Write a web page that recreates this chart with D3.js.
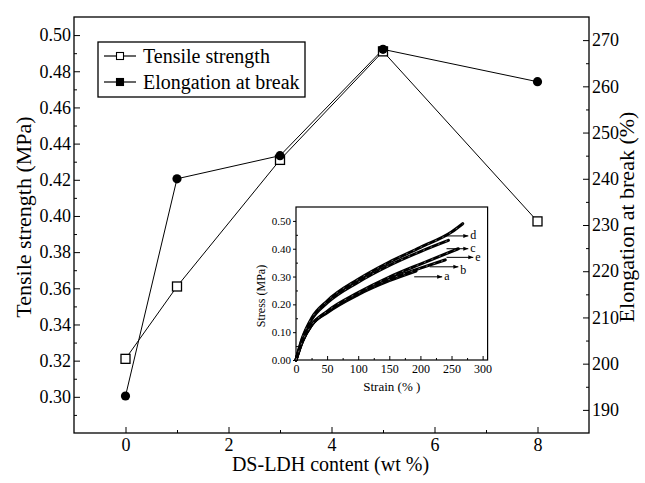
<!DOCTYPE html>
<html>
<head>
<meta charset="utf-8">
<script src="https://cdn.jsdelivr.net/npm/d3@7"></script>
<style>
  body { margin: 0; background: #fff; }
</style>
</head>
<body>
<svg id="chart" width="645" height="483"></svg>
<script>
// DS-LDH loading (wt %) and the two measured properties
const contents = [0, 1, 3, 5, 8];
const tensileStrength = [0.321, 0.361, 0.431, 0.491, 0.397];   // MPa
const elongationAtBreak = [193, 240, 245, 268, 261];           // %

// main axis ticks
const xTicks = [0, 2, 4, 6, 8];
const xMinorTicks = [1, 3, 5, 7];
const leftTicks = [0.30, 0.32, 0.34, 0.36, 0.38, 0.40, 0.42, 0.44, 0.46, 0.48, 0.50];
const leftMinorTicks = [0.29, 0.31, 0.33, 0.35, 0.37, 0.39, 0.41, 0.43, 0.45, 0.47, 0.49];
const rightTicks = [190, 200, 210, 220, 230, 240, 250, 260, 270];
const rightMinorTicks = [195, 205, 215, 225, 235, 245, 255, 265];

// stress–strain curves of the films (inset)
const curveNames = ["a", "b", "c", "d", "e"];
const strainA = [0, 10, 25, 50, 100, 150, 193];
const stressA = [0, 0.065, 0.125, 0.17, 0.235, 0.285, 0.32];
const strainB = [0, 10, 25, 50, 100, 150, 200, 240];
const stressB = [0, 0.065, 0.125, 0.172, 0.238, 0.29, 0.33, 0.36];
const strainC = [0, 10, 25, 50, 100, 150, 200, 245];
const stressC = [0, 0.075, 0.145, 0.205, 0.28, 0.34, 0.39, 0.43];
const strainD = [0, 10, 25, 50, 100, 150, 200, 250, 268];
const stressD = [0, 0.078, 0.15, 0.212, 0.29, 0.352, 0.405, 0.46, 0.49];
const strainE = [0, 10, 25, 50, 100, 150, 200, 261];
const stressE = [0, 0.065, 0.125, 0.175, 0.242, 0.298, 0.345, 0.40];

const insetStressTicks = [0, 0.10, 0.20, 0.30, 0.40, 0.50];
const insetStressMinor = [0.05, 0.15, 0.25, 0.35, 0.45];
const insetStrainTicks = [0, 50, 100, 150, 200, 250, 300];
const insetStrainMinor = [25, 75, 125, 175, 225, 275];

// curve-label pointers in inset data units: strain from, strain to, stress level
const pointerFrom = [190, 215, 242, 237, 242];
const pointerTo = [235, 261, 277, 277, 285];
const pointerStress = [0.299, 0.335, 0.400, 0.446, 0.369];

const SERIF = '"Liberation Serif"';

const svg = d3.select("#chart");
svg.append("rect").attr("width", 645).attr("height", 483).attr("fill", "#fff");

const box = { left: 74, right: 589, top: 17, bottom: 433 };
const x = d3.scaleLinear().domain([-1, 9]).range([box.left, box.right]);
const yL = d3.scaleLinear().domain([0.28, 0.51]).range([box.bottom, box.top]);
const yR = d3.scaleLinear().domain([185, 275]).range([box.bottom, box.top]);

function styleAxis(size) {
  return g => {
    g.attr("font-size", size);
    g.select(".domain").remove();
    g.selectAll(".tick line").attr("stroke", "#000").attr("stroke-width", 1);
    g.selectAll(".tick text").attr("fill", "#000")
      .style("font-family", SERIF).style("font-size", size + "px");
  };
}

function addText(parent, size) {
  return parent.append("text").style("font-family", SERIF)
    .style("font-size", size + "px").attr("fill", "#000");
}

// bottom axis
svg.append("g").attr("transform", `translate(0,${box.bottom})`)
  .call(d3.axisBottom(x).tickValues(xTicks).tickSize(-6).tickPadding(5).tickFormat(d3.format("d")))
  .call(styleAxis(18));
svg.append("g").attr("transform", `translate(0,${box.bottom})`)
  .call(d3.axisBottom(x).tickValues(xMinorTicks).tickSize(-3).tickFormat(""))
  .call(styleAxis(18));

// left axis
svg.append("g").attr("transform", `translate(${box.left},0)`)
  .call(d3.axisLeft(yL).tickValues(leftTicks).tickSize(-6).tickPadding(3).tickFormat(d3.format(".2f")))
  .call(styleAxis(18));
svg.append("g").attr("transform", `translate(${box.left},0)`)
  .call(d3.axisLeft(yL).tickValues(leftMinorTicks).tickSize(-3).tickFormat(""))
  .call(styleAxis(18));

// right axis
svg.append("g").attr("transform", `translate(${box.right},0)`)
  .call(d3.axisRight(yR).tickValues(rightTicks).tickSize(-6).tickPadding(3).tickFormat(d3.format("d")))
  .call(styleAxis(18));
svg.append("g").attr("transform", `translate(${box.right},0)`)
  .call(d3.axisRight(yR).tickValues(rightMinorTicks).tickSize(-3).tickFormat(""))
  .call(styleAxis(18));

// frame
svg.append("rect")
  .attr("x", box.left).attr("y", box.top)
  .attr("width", box.right - box.left).attr("height", box.bottom - box.top)
  .attr("fill", "none").attr("stroke", "#000").attr("stroke-width", 1.3);

// axis titles
addText(svg, 20).attr("x", (box.left + box.right) / 2 - 1).attr("y", 471)
  .attr("text-anchor", "middle").text("DS-LDH content (wt %)");
addText(svg, 22).attr("transform", "translate(31,217) rotate(-90)")
  .attr("text-anchor", "middle").text("Tensile strength (MPa)");
addText(svg, 22).attr("transform", "translate(634,217) rotate(-90)")
  .attr("text-anchor", "middle").text("Elongation at break (%)");

// series lines
const idx = d3.range(contents.length);
svg.append("path")
  .attr("d", d3.line().x(i => x(contents[i])).y(i => yR(elongationAtBreak[i]))(idx))
  .attr("fill", "none").attr("stroke", "#000").attr("stroke-width", 1);
svg.append("path")
  .attr("d", d3.line().x(i => x(contents[i])).y(i => yL(tensileStrength[i]))(idx))
  .attr("fill", "none").attr("stroke", "#000").attr("stroke-width", 1);

// markers: open squares for strength, filled dots for elongation on top
svg.append("g").selectAll("rect").data(idx).join("rect")
  .attr("x", i => x(contents[i]) - 4.5).attr("y", i => yL(tensileStrength[i]) - 4.5)
  .attr("width", 9).attr("height", 9)
  .attr("fill", "#fff").attr("stroke", "#000").attr("stroke-width", 1.3);
svg.append("g").selectAll("circle").data(idx).join("circle")
  .attr("cx", i => x(contents[i])).attr("cy", i => yR(elongationAtBreak[i]))
  .attr("r", 4.6).attr("fill", "#000");

// legend
const lg = svg.append("g");
lg.append("rect").attr("x", 98).attr("y", 42).attr("width", 207).attr("height", 55)
  .attr("fill", "#fff").attr("stroke", "#000").attr("stroke-width", 1.3);
[["Tensile strength", 56, false], ["Elongation at break", 82, true]].forEach(([label, cy, filled]) => {
  lg.append("line").attr("x1", 104).attr("x2", 136).attr("y1", cy).attr("y2", cy)
    .attr("stroke", "#000").attr("stroke-width", 1.2);
  lg.append("rect").attr("x", 116.5).attr("y", cy - 3.5).attr("width", 7).attr("height", 7)
    .attr("fill", filled ? "#000" : "#fff").attr("stroke", "#000").attr("stroke-width", 1.1);
  addText(lg, 20).attr("x", 143).attr("y", cy + 6.5).text(label);
});

// ---- inset: stress–strain curves ----
const ib = { left: 296, right: 487.6, top: 207, bottom: 360 };
const ix = d3.scaleLinear().domain([0, 308]).range([ib.left, ib.right]);
const iy = d3.scaleLinear().domain([0, 0.55]).range([ib.bottom, ib.top]);
const inset = svg.append("g");
inset.append("rect").attr("x", ib.left).attr("y", ib.top)
  .attr("width", ib.right - ib.left).attr("height", ib.bottom - ib.top).attr("fill", "#fff");

inset.append("g").attr("transform", `translate(0,${ib.bottom})`)
  .call(d3.axisBottom(ix).tickValues(insetStrainTicks).tickSize(-4).tickPadding(4).tickFormat(d3.format("d")))
  .call(styleAxis(12));
inset.append("g").attr("transform", `translate(0,${ib.bottom})`)
  .call(d3.axisBottom(ix).tickValues(insetStrainMinor).tickSize(-2).tickFormat(""))
  .call(styleAxis(12));
inset.append("g").attr("transform", `translate(${ib.left},0)`)
  .call(d3.axisLeft(iy).tickValues(insetStressTicks).tickSize(3).tickPadding(2).tickFormat(d3.format(".2f")))
  .call(styleAxis(11));
inset.append("g").attr("transform", `translate(${ib.left},0)`)
  .call(d3.axisLeft(iy).tickValues(insetStressMinor).tickSize(-2).tickFormat(""))
  .call(styleAxis(11));

inset.append("rect").attr("x", ib.left).attr("y", ib.top)
  .attr("width", ib.right - ib.left).attr("height", ib.bottom - ib.top)
  .attr("fill", "none").attr("stroke", "#000").attr("stroke-width", 1.2);

addText(inset, 13).attr("x", (ib.left + ib.right) / 2).attr("y", 391)
  .attr("text-anchor", "middle").text("Strain (% )");
addText(inset, 12).attr("transform", "translate(265,296) rotate(-90)")
  .attr("text-anchor", "middle").text("Stress (MPa)");

const curves = [
  [strainA, stressA], [strainB, stressB], [strainC, stressC], [strainD, stressD], [strainE, stressE]
];
const curveLine = d3.line().x(d => ix(d[0])).y(d => iy(d[1])).curve(d3.curveMonotoneX);
curves.forEach(([sx, sy]) => {
  const pts = sx.map((v, i) => [v, sy[i]]);
  inset.append("path").attr("d", curveLine(pts))
    .attr("fill", "none").attr("stroke", "#000").attr("stroke-width", 3)
    .attr("stroke-linecap", "round");
  inset.append("path").attr("d", curveLine(pts))
    .attr("fill", "none").attr("stroke", "#fff").attr("stroke-width", 0.6)
    .attr("stroke-dasharray", "2 6").attr("opacity", 0.7);
});

// arrowhead
svg.append("defs").append("marker")
  .attr("id", "head").attr("viewBox", "0 0 6 6").attr("refX", 6).attr("refY", 3)
  .attr("markerWidth", 5).attr("markerHeight", 5).attr("orient", "auto")
  .append("path").attr("d", "M0,0.6 L6,3 L0,5.4 Z").attr("fill", "#000");

curveNames.forEach((name, i) => {
  const yy = iy(pointerStress[i]);
  inset.append("line")
    .attr("x1", ix(pointerFrom[i])).attr("x2", ix(pointerTo[i]))
    .attr("y1", yy).attr("y2", yy)
    .attr("stroke", "#000").attr("stroke-width", 1).attr("marker-end", "url(#head)");
  addText(inset, 12)
    .attr("x", ix(pointerTo[i]) + 2).attr("y", yy + (name === "b" ? 7 : 3.5))
    .text(name);
});
</script>
</body>
</html>
